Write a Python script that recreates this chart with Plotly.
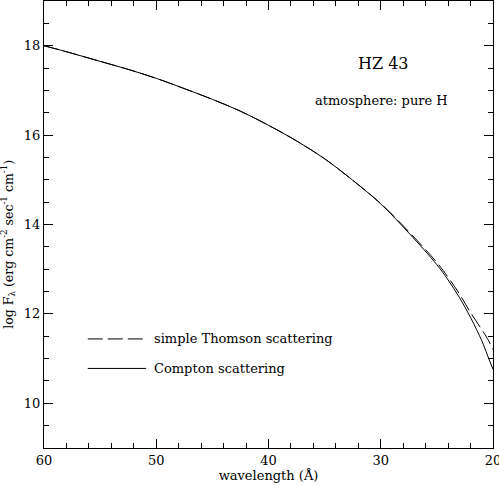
import plotly.graph_objects as go

# model spectra of HZ 43
wavelength = [60, 57.5, 55, 52.5, 50, 47.5, 45, 42.5, 40, 37.5, 35, 32.5, 30, 27.5, 25, 24, 23, 22, 21, 20.5, 20.0]
compton = [18.00, 17.83, 17.65, 17.47, 17.27, 17.04, 16.80, 16.535, 16.22, 15.87, 15.47, 14.99, 14.46, 13.81, 13.10, 12.76, 12.37, 11.92, 11.40, 11.08, 10.76]
thomson = [18.00, 17.83, 17.65, 17.47, 17.27, 17.04, 16.80, 16.535, 16.22, 15.87, 15.47, 14.99, 14.47, 13.84, 13.15, 12.82, 12.45, 12.03, 11.65, 11.45, 11.20]

legend_labels = ["simple Thomson scattering", "Compton scattering"]

font = "DejaVu Serif"

fig = go.Figure()
fig.add_trace(go.Scatter(x=wavelength, y=thomson, mode="lines",
                         line=dict(color="black", width=1, dash="15px,5px", shape="spline", smoothing=1),
                         showlegend=False))
fig.add_trace(go.Scatter(x=wavelength, y=compton, mode="lines",
                         line=dict(color="black", width=1, shape="spline", smoothing=1),
                         showlegend=False))

# hand drawn legend like the original
fig.add_shape(type="line", xref="x", yref="y", x0=56.1, x1=50.9, y0=11.44, y1=11.44,
              line=dict(color="black", width=1, dash="15px,5px"))
fig.add_shape(type="line", xref="x", yref="y", x0=56.1, x1=50.9, y0=10.78, y1=10.78,
              line=dict(color="black", width=1))
fig.add_annotation(x=50.4, y=11.44, text=legend_labels[0], showarrow=False, xanchor="left",
                   font=dict(family=font, size=13, color="black"))
fig.add_annotation(x=50.4, y=10.78, text=legend_labels[1], showarrow=False, xanchor="left",
                   font=dict(family=font, size=13, color="black"))

fig.add_annotation(x=29.8, y=17.6, text="HZ 43", showarrow=False,
                   font=dict(family=font, size=16, color="black"))
fig.add_annotation(x=29.93, y=16.78, text="atmosphere: pure H", showarrow=False,
                   font=dict(family=font, size=13, color="black"))

# y title as a rotated annotation, nudged down to sit where the original has it
fig.add_annotation(xref="paper", yref="paper", x=-0.08, y=0.455, textangle=-90,
                   text="log F<sub>λ</sub> (erg cm<sup>-2</sup> sec<sup>-1</sup> cm<sup>-1</sup>)",
                   showarrow=False, xanchor="center", yanchor="middle",
                   font=dict(family=font, size=12.5, color="black"))

axis_style = dict(showline=True, linecolor="black", linewidth=1, mirror="allticks",
                  ticks="inside", ticklen=9, tickwidth=1, tickcolor="black",
                  showgrid=False, zeroline=False, automargin=False, ticklabeloverflow="allow",
                  tickfont=dict(family=font, size=13, color="black"),
                  minor=dict(ticks="inside", ticklen=5, tickwidth=1, tickcolor="black", showgrid=False))

fig.update_xaxes(range=[60, 20], dtick=10, tick0=20, **axis_style)
fig.update_xaxes(minor_dtick=2, title=dict(text="wavelength (Å)", standoff=3,
                                           font=dict(family=font, size=13, color="black")))
fig.update_yaxes(range=[9, 19], dtick=2, tick0=10, minor_dtick=0.5, **axis_style)

fig.update_layout(width=499, height=485, margin=dict(l=44, r=6, t=1, b=37),
                  plot_bgcolor="white", paper_bgcolor="white")

# the page body has an 8px margin by default, drop it so the figure fills the window
fig.write_html("out.html", config={"displayModeBar": False},
               post_script="document.body.style.margin = '0';")
